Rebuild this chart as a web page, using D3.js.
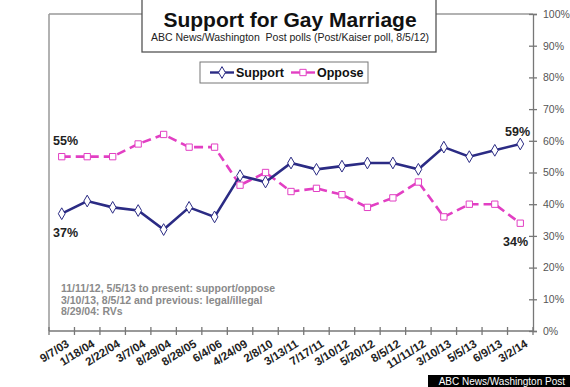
<!DOCTYPE html>
<html>
<head>
<meta charset="utf-8">
<script src="https://cdn.jsdelivr.net/npm/d3@7"></script>
<style>
  body { margin: 0; background: #fff; }
  svg { display: block; font-family: "Liberation Sans", Arial, sans-serif; }
</style>
</head>
<body>
<svg id="chart" width="570" height="387"></svg>
<script>
var dates = ["9/7/03", "1/18/04", "2/22/04", "3/7/04", "8/29/04", "8/28/05", "6/4/06",
    "4/24/09", "2/8/10", "3/13/11", "7/17/11", "3/10/12", "5/20/12", "8/5/12",
    "11/11/12", "3/10/13", "5/5/13", "6/9/13", "3/2/14"];
var support = [37, 41, 39, 38, 32, 39, 36, 49, 47, 53, 51, 52, 53, 53, 51, 58, 55, 57, 59];
var oppose = [55, 55, 55, 59, 62, 58, 58, 46, 50, 44, 45, 43, 39, 42, 47, 36, 40, 40, 34];
var yTicks = [0, 10, 20, 30, 40, 50, 60, 70, 80, 90, 100];
var notes = ["11/11/12, 5/5/13 to present: support/oppose",
    "3/10/13, 8/5/12 and previous: legal/illegal",
    "8/29/04: RVs"];

var svg = d3.select("#chart");
var pLeft = 49, pRight = 533, pTop = 14, pBottom = 331;
var navy = "#2b2b84", pink = "#e23fc3";

var x = d3.scaleBand().domain(dates).range([pLeft, pRight]);
var y = d3.scaleLinear().domain([0, 100]).range([pBottom, pTop]);

// frame
svg.append("line").attr("x1", pLeft).attr("x2", pLeft).attr("y1", pTop).attr("y2", pBottom)
    .attr("stroke", "#999").attr("stroke-width", 1.5);
svg.append("line").attr("x1", pLeft).attr("x2", pRight).attr("y1", pTop).attr("y2", pTop)
    .attr("stroke", "#999").attr("stroke-width", 1.5);

// right axis
var yAxis = svg.append("g").attr("transform", "translate(" + pRight + ",0)")
    .call(d3.axisRight(y).tickValues(yTicks).tickSize(4).tickFormat(function(d) { return d + "%"; }));
yAxis.select(".domain").attr("stroke", "#777").attr("stroke-width", 1.3);
yAxis.selectAll(".tick line").attr("stroke", "#777").attr("x1", -4).attr("x2", 4).attr("stroke-width", 1.3);
yAxis.selectAll(".tick text").attr("x", 10).attr("fill", "#555").attr("font-size", 10.5)
    .attr("font-family", "Liberation Sans, Arial, sans-serif");

// bottom axis, ticks between categories
var xAxis = svg.append("g");
xAxis.append("line").attr("x1", pLeft).attr("x2", pRight).attr("y1", pBottom).attr("y2", pBottom)
    .attr("stroke", "#777").attr("stroke-width", 1.3);
var edges = dates.map(function(d) { return x(d); }).concat([pRight]);
xAxis.selectAll("line.tk").data(edges).enter().append("line").attr("class", "tk")
    .attr("x1", function(d) { return d; }).attr("x2", function(d) { return d; })
    .attr("y1", pBottom - 4).attr("y2", pBottom + 4)
    .attr("stroke", "#777").attr("stroke-width", 1.3);
xAxis.selectAll("text").data(dates).enter().append("text")
    .attr("transform", function(d) {
        return "translate(" + (x(d) + x.bandwidth() / 2 + 4) + "," + (pBottom + 8) + ") rotate(-32)";
    })
    .attr("text-anchor", "end").attr("dy", "0.7em")
    .attr("font-size", 11.5).attr("font-weight", "bold").attr("fill", "#222")
    .text(function(d) { return d; });

var cx = function(d, i) { return x(dates[i]) + x.bandwidth() / 2; };
var line = d3.line().x(cx).y(function(d) { return y(d); });

svg.append("path").datum(oppose).attr("d", line).attr("fill", "none")
    .attr("stroke", pink).attr("stroke-width", 2.6).attr("stroke-dasharray", "9,5");
svg.append("path").datum(support).attr("d", line).attr("fill", "none")
    .attr("stroke", navy).attr("stroke-width", 2.6);

var sq = d3.symbol().type(d3.symbolSquare).size(40);
var dm = d3.symbol().type(d3.symbolDiamond).size(40);
svg.selectAll("path.op").data(oppose).enter().append("path").attr("class", "op")
    .attr("d", sq)
    .attr("transform", function(d, i) { return "translate(" + cx(d, i) + "," + y(d) + ")"; })
    .attr("fill", "#fff").attr("stroke", pink).attr("stroke-width", 1);
svg.selectAll("path.sp").data(support).enter().append("path").attr("class", "sp")
    .attr("d", dm)
    .attr("transform", function(d, i) { return "translate(" + cx(d, i) + "," + y(d) + ")"; })
    .attr("fill", "#fff").attr("stroke", navy).attr("stroke-width", 1);

// end labels
function endLabel(txt, xx, yy) {
    svg.append("text").attr("x", xx).attr("y", yy).attr("font-size", 12.5)
        .attr("font-weight", "bold").attr("fill", "#222").text(txt);
}
endLabel(oppose[0] + "%", 53, 145);
endLabel(support[0] + "%", 53, 237);
endLabel(support[18] + "%", 505, 136);
endLabel(oppose[18] + "%", 503, 246);

// notes
svg.selectAll("text.note").data(notes).enter().append("text").attr("class", "note")
    .attr("x", 61).attr("y", function(d, i) { return 292 + i * 11.5; })
    .attr("font-size", 10.5).attr("font-weight", "bold").attr("fill", "#8a8a8a")
    .text(function(d) { return d; });

// title box
svg.append("rect").attr("x", 142).attr("y", -1).attr("width", 294).attr("height", 53)
    .attr("fill", "#fff").attr("stroke", "#555").attr("stroke-width", 1.3);
svg.append("text").attr("x", 290).attr("y", 27).attr("text-anchor", "middle")
    .attr("font-size", 21).attr("font-weight", "bold").attr("fill", "#111")
    .text("Support for Gay Marriage");
svg.append("text").attr("x", 290).attr("y", 41).attr("text-anchor", "middle")
    .attr("font-size", 10.5).attr("fill", "#222").style("white-space", "pre")
    .text("ABC News/Washington  Post polls (Post/Kaiser poll, 8/5/12)");

// legend
svg.append("rect").attr("x", 200).attr("y", 62).attr("width", 168).attr("height", 21)
    .attr("fill", "#fff").attr("stroke", "#777").attr("stroke-width", 1);
var legend = [{ name: "Support", color: navy, sym: dm, x: 210 }, { name: "Oppose", color: pink, sym: sq, x: 291 }];
legend.forEach(function(l) {
    svg.append("line").attr("x1", l.x).attr("x2", l.x + 24).attr("y1", 72.5).attr("y2", 72.5)
        .attr("stroke", l.color).attr("stroke-width", 2.4);
    svg.append("path").attr("d", l.sym).attr("transform", "translate(" + (l.x + 12) + ",72.5)")
        .attr("fill", "#fff").attr("stroke", l.color).attr("stroke-width", 1);
    svg.append("text").attr("x", l.x + 26).attr("y", 77).attr("font-size", 12.5)
        .attr("font-weight", "bold").attr("fill", "#111").text(l.name);
});

// source tag
svg.append("rect").attr("x", 428).attr("y", 375).attr("width", 142).attr("height", 12).attr("fill", "#000");
svg.append("text").attr("x", 565).attr("y", 385).attr("text-anchor", "end")
    .attr("font-size", 10).attr("fill", "#fff").text("ABC News/Washington Post");
</script>
</body>
</html>
